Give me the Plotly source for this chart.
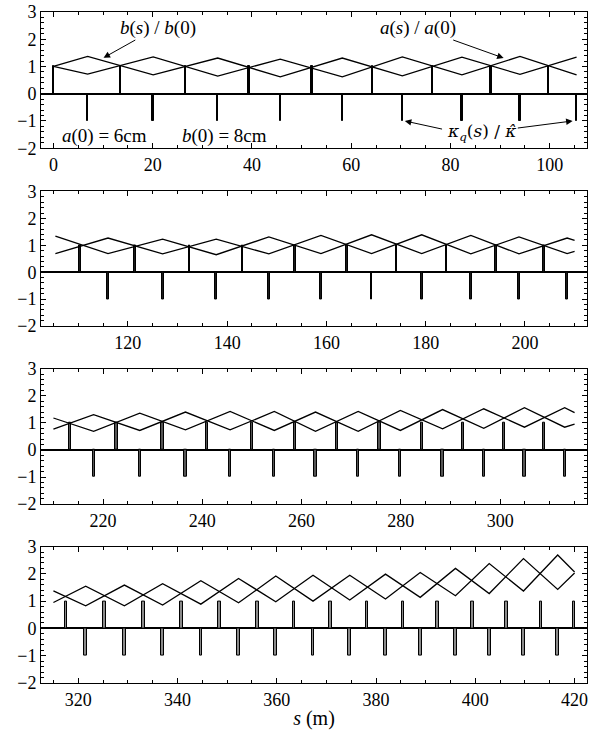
import plotly.graph_objects as go

# ---------------- data ----------------
PANEL_BREAKS = [0, 105, 210, 315, 420]

# focusing quadrupoles (kappa = +1); first and last are half quads
F_POS = [0, 13.5, 26.6, 39.4, 52.1, 64.3, 76.4, 88.2, 99.7,
         110.4, 121.5, 132.4, 143.1, 153.7, 164.1, 174.1, 184.2, 194.1, 203.8,
         213.3, 222.7, 232.0, 241.0, 250.0, 258.6, 267.1, 275.7, 284.2, 292.5, 300.8, 308.9,
         317.5, 325.3, 333.2, 340.8, 348.5, 356.1, 363.5, 370.8, 378.2, 385.4, 392.4, 399.4,
         406.3, 413.2, 420.0]
# defocusing quadrupoles (kappa = -1)
D_POS = [6.9, 20.1, 33.1, 45.7, 58.2, 70.3, 82.3, 94.0, 105.4,
         116.0, 127.0, 137.8, 148.4, 158.9, 169.1, 179.2, 189.1, 198.8, 208.5,
         218.1, 227.4, 236.6, 245.6, 254.5, 262.8, 271.4, 279.9, 288.4, 296.7, 304.9, 313.0,
         321.5, 329.3, 337.0, 344.7, 352.3, 359.8, 367.3, 374.7, 381.9, 388.9, 396.0, 402.8,
         409.7, 416.6]
F_KAPPA = 1.0
D_KAPPA = -1.0
QUAD_LEN = [0.30, 0.36, 0.45, 0.52]   # quad length (m) in each panel

# envelope vertices
ENV_S = [0, 6.9, 20.1, 33.1, 45.7, 58.2, 70.3, 82.3, 94.0, 105.4,
         116.0, 127.0, 137.8, 148.4, 158.9, 169.1, 179.2, 189.1, 198.8, 208.5, 210.0,
         218.1, 227.4, 236.6, 245.6, 254.5, 262.8, 271.4, 279.9, 288.4, 296.7, 304.9, 313.0, 315.0,
         321.5, 329.3, 337.0, 344.7, 352.3, 359.8, 367.3, 374.7, 381.9, 388.9, 396.0, 402.8,
         409.7, 416.6, 420.0]
A_ENV = [1.0, 0.72, 1.35, 0.65, 1.27, 0.62, 1.35, 0.69, 1.37, 0.69,
         1.27, 0.68, 1.23, 0.68, 1.37, 0.69, 1.39, 0.68, 1.31, 0.69, 0.77,
         1.30, 0.72, 1.40, 0.74, 1.42, 0.69, 1.42, 0.72, 1.49, 0.80, 1.56, 0.84, 0.95,
         1.55, 0.83, 1.64, 0.89, 1.83, 0.98, 1.95, 1.04, 1.99, 1.14, 2.20, 1.28,
         2.56, 1.43, 2.03]
B_ENV = [1.0, 1.37, 0.69, 1.31, 0.62, 1.31, 0.66, 1.34, 0.71, 1.34,
         0.69, 1.23, 0.65, 1.31, 0.69, 1.39, 0.69, 1.37, 0.68, 1.27, 1.18,
         0.69, 1.36, 0.74, 1.42, 0.72, 1.40, 0.69, 1.46, 0.78, 1.52, 0.84, 1.56, 1.38,
         0.83, 1.59, 0.86, 1.75, 0.94, 1.92, 1.00, 1.95, 1.08, 2.05, 1.20, 2.38,
         1.37, 2.69, 2.07]

Y_TICKS = [-2, -1, 0, 1, 2, 3]

# ---------------- figure ----------------
FONT = "Liberation Serif, Times New Roman, DejaVu Serif, serif"
QUAD_FILL = ["black", "#1a1a1a", "#555555", "#8a8a8a"]
fig = go.Figure()

domains = [[0.797, 1.0], [0.532, 0.7325], [0.2666, 0.4684], [0.0, 0.2033]]
pad = 2.5

for k in range(4):
    lo, hi = PANEL_BREAKS[k], PANEL_BREAKS[k + 1]
    xa = "x" if k == 0 else f"x{k+1}"
    ya = "y" if k == 0 else f"y{k+1}"
    L = QUAD_LEN[k]

    def in_panel(s):
        if k == 0:
            return -1 <= s <= hi + 0.5
        return lo + 0.5 < s <= hi + 0.5

    # quadrupole bars
    for pos_list, kap in ((F_POS, F_KAPPA), (D_POS, D_KAPPA)):
        xs, ws, offs = [], [], []
        for s in pos_list:
            if not in_panel(s):
                continue
            if s == PANEL_BREAKS[0]:
                w = L / 2; off = 0.0
            elif s == PANEL_BREAKS[-1]:
                w = L / 2; off = -w
            else:
                w = L; off = -L / 2
            xs.append(s); ws.append(w); offs.append(off)
        fig.add_trace(go.Bar(x=xs, y=[kap] * len(xs), width=ws, offset=offs,
                             marker=dict(color=QUAD_FILL[k], line=dict(color="black", width=1)),
                             xaxis=xa, yaxis=ya, showlegend=False))

    # envelopes
    sel = [i for i, s in enumerate(ENV_S) if lo - 0.5 <= s <= hi + 0.5]
    for env in (A_ENV, B_ENV):
        fig.add_trace(go.Scatter(x=[ENV_S[i] for i in sel], y=[env[i] for i in sel],
                                 mode="lines", line=dict(color="black", width=1.3),
                                 xaxis=xa, yaxis=ya, showlegend=False))

    axis_common = dict(showline=True, linecolor="black", linewidth=1, mirror="allticks",
                       ticks="inside", ticklen=5, tickcolor="black", showgrid=False,
                       tickfont=dict(family=FONT, size=18, color="black"))
    xkey = "xaxis" if k == 0 else f"xaxis{k+1}"
    ykey = "yaxis" if k == 0 else f"yaxis{k+1}"
    fig.update_layout({
        xkey: dict(axis_common, range=[lo - pad, hi + pad], tick0=0, dtick=20,
                   zeroline=False, anchor=ya, domain=[0, 1],
                   minor=dict(dtick=5, ticks="inside", ticklen=3, tickcolor="black")),
        ykey: dict(axis_common, range=[-2, 3], tickvals=Y_TICKS, anchor=xa,
                   domain=domains[k], zeroline=True, zerolinecolor="black",
                   zerolinewidth=1.5,
                   minor=dict(dtick=0.2, ticks="inside", ticklen=3, tickcolor="black")),
    })

fig.update_layout(xaxis4_title=dict(text="<i>s</i> (m)", font=dict(family=FONT, size=20, color="black"),
                                    standoff=2))

ann_font = dict(family=FONT, size=19, color="black")
arrow_kw = dict(showarrow=True, arrowhead=2, arrowsize=1.3, arrowwidth=1, arrowcolor="black",
                axref="x", ayref="y", xref="x", yref="y")
# labelled arrows
fig.add_annotation(x=10.1, y=1.32, ax=21.0, ay=2.43,
                   text="<i>b</i>(<i>s</i>) / <i>b</i>(0)", font=ann_font, **arrow_kw)
fig.add_annotation(x=90.7, y=1.31, ax=73.5, ay=2.43,
                   text="<i>a</i>(<i>s</i>) / <i>a</i>(0)", font=ann_font, **arrow_kw)
fig.add_annotation(x=104.6, y=-1.0, ax=86.3, ay=-1.43,
                   text="<i>κ</i><sub><i>q</i></sub>(<i>s</i>) / <i>κ̂</i>",
                   font=dict(ann_font, family="DejaVu Serif", size=17), **arrow_kw)
fig.add_annotation(x=70.8, y=-1.0, ax=78.6, ay=-1.31, text="", **arrow_kw)

for x, y, t in [(10.3, -1.56, "<i>a</i>(0) = 6cm"), (34.4, -1.56, "<i>b</i>(0) = 8cm")]:
    fig.add_annotation(xref="x", yref="y", x=x, y=y, text=t, showarrow=False, font=ann_font)

fig.update_layout(width=590, height=731, margin=dict(l=41, r=2, t=9, b=48),
                  paper_bgcolor="white", plot_bgcolor="white", barmode="overlay",
                  bargap=0)

fig.write_html("out.html",
               config={"displayModeBar": False},
               post_script="document.body.style.margin='0';"
                           "document.body.style.overflow='hidden';"
                           "document.documentElement.style.overflow='hidden';")
